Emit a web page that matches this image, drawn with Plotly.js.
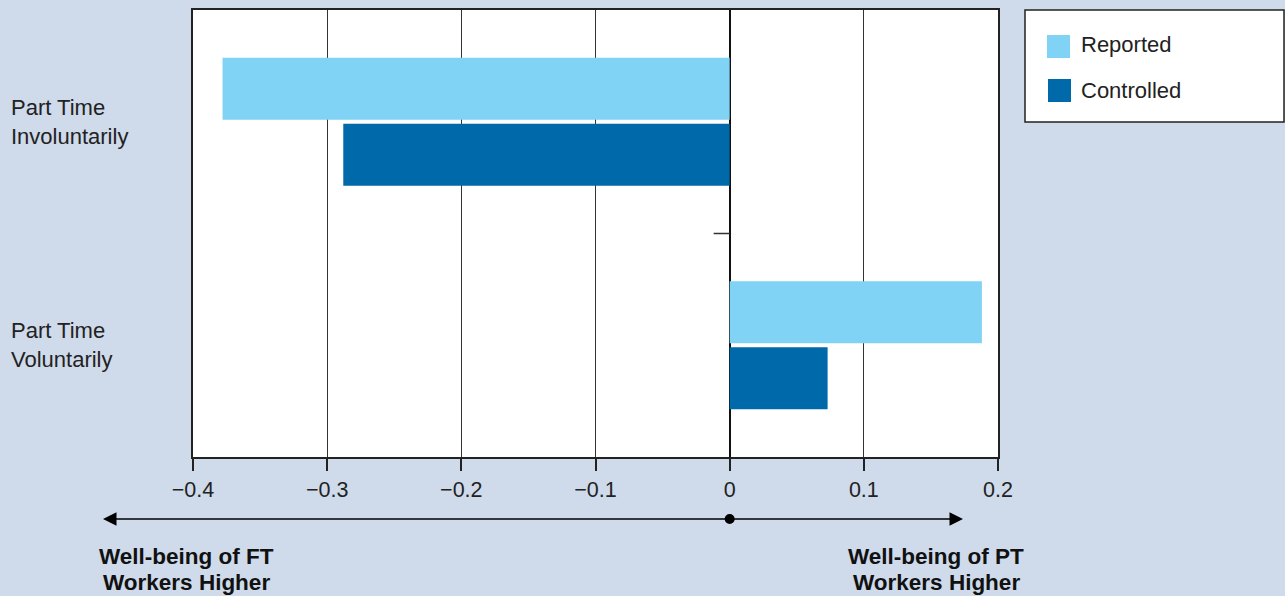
<!DOCTYPE html>
<html>
<head>
<meta charset="utf-8">
<script src="https://cdn.plot.ly/plotly-3.0.1.min.js"></script>
<style>
  html, body { margin: 0; padding: 0; background: #cfdaeb; }
  #chart { width: 1285px; height: 596px; }
</style>
</head>
<body>
<div id="chart"></div>
<script>
const categories = ['Part Time<br>Involuntarily', 'Part Time<br>Voluntarily'];
const seriesNames = ['Reported', 'Controlled'];
const reported = [-0.378, 0.188];
const controlled = [-0.288, 0.073];
const xTicks = [-0.4, -0.3, -0.2, -0.1, 0, 0.1, 0.2];
const xTickText = ['\u22120.4', '\u22120.3', '\u22120.2', '\u22120.1', '0', '0.1', '0.2'];
const directionLabels = [['Well-being of FT', 'Workers Higher'], ['Well-being of PT', 'Workers Higher']];

const COLORS = { reported: '#80d3f5', controlled: '#0069aa' };
const FONT = 'Liberation Sans, Arial, sans-serif';

// plot area in page pixels
const W = 1285, H = 596;
const L = 193, R = 998, T = 10, B = 457;
const px = (x) => (x - L) / (R - L);
const py = (y) => (B - y) / (B - T);

const traces = [
  { type: 'bar', orientation: 'h', name: seriesNames[0], y: categories, x: reported,
    marker: { color: COLORS.reported }, hoverinfo: 'x+name' },
  { type: 'bar', orientation: 'h', name: seriesNames[1], y: categories, x: controlled,
    marker: { color: COLORS.controlled }, hoverinfo: 'x+name' },
];

const shapes = [
  // small tick on the zero line between the two groups
  { type: 'line', xref: 'x', xsizemode: 'pixel', xanchor: 0, x0: -16, x1: 0,
    yref: 'y', y0: 0.5, y1: 0.5, line: { color: '#333', width: 1.5 } },
  // dot on the direction arrow
  { type: 'circle', xref: 'x', xsizemode: 'pixel', xanchor: 0, x0: -5, x1: 5,
    yref: 'paper', ysizemode: 'pixel', yanchor: py(519), y0: -5, y1: 5,
    fillcolor: '#000', line: { color: '#000', width: 0 } },
  // legend box
  { type: 'rect', xref: 'paper', yref: 'paper', x0: px(1025), x1: px(1284), y0: py(122), y1: py(10),
    fillcolor: '#fff', line: { color: '#222', width: 1.5 } },
  { type: 'rect', xref: 'paper', yref: 'paper', x0: px(1047), x1: px(1070), y0: py(58), y1: py(35),
    fillcolor: COLORS.reported, line: { width: 0 } },
  { type: 'rect', xref: 'paper', yref: 'paper', x0: px(1048), x1: px(1071), y0: py(102), y1: py(79),
    fillcolor: COLORS.controlled, line: { width: 0 } },
];

const annotations = [];
categories.forEach((c) => {
  annotations.push({ xref: 'paper', yref: 'y', x: px(9), y: c, xanchor: 'left', yanchor: 'middle',
    align: 'left', text: c, showarrow: false, font: { family: FONT, size: 22, color: '#222' } });
});
seriesNames.forEach((n, i) => {
  annotations.push({ xref: 'paper', yref: 'paper', x: px(1079), y: py(i === 0 ? 45 : 90),
    xanchor: 'left', yanchor: 'middle', text: n, showarrow: false,
    font: { family: FONT, size: 22, color: '#222' } });
});
// direction arrows
annotations.push({ xref: 'paper', yref: 'paper', axref: 'paper', ayref: 'paper',
  x: px(103), y: py(519), ax: px(731), ay: py(519), text: '', showarrow: true,
  arrowhead: 2, arrowsize: 1.8, arrowwidth: 1.5, arrowcolor: '#000' });
annotations.push({ xref: 'paper', yref: 'paper', axref: 'paper', ayref: 'paper',
  x: px(963), y: py(519), ax: px(731), ay: py(519), text: '', showarrow: true,
  arrowhead: 2, arrowsize: 1.8, arrowwidth: 1.5, arrowcolor: '#000' });
[186, 936].forEach((cx, i) => {
  directionLabels[i].forEach((line, j) => {
    annotations.push({ xref: 'paper', yref: 'paper', x: px(cx), y: py(j === 0 ? 556 : 582),
      xanchor: 'center', yanchor: 'middle', text: '<b>' + line + '</b>', showarrow: false,
      font: { family: FONT, size: 22.5, color: '#111' } });
  });
});

const layout = {
  width: W, height: H,
  margin: { l: L, r: W - R, t: T, b: H - B },
  paper_bgcolor: '#cfdaeb',
  plot_bgcolor: '#ffffff',
  barmode: 'group',
  bargap: 0.41,
  bargroupgap: 0.06,
  showlegend: false,
  xaxis: {
    range: [-0.4, 0.2],
    tickvals: xTicks, ticktext: xTickText,
    ticks: 'outside', ticklen: 12, tickwidth: 1.5, tickcolor: '#222',
    tickfont: { family: FONT, size: 21.5, color: '#222' },
    showgrid: true, gridcolor: '#333', gridwidth: 1.2,
    zeroline: true, zerolinecolor: '#111', zerolinewidth: 1.5,
    showline: true, linecolor: '#222', linewidth: 2, mirror: true,
    fixedrange: true,
  },
  yaxis: {
    type: 'category', categoryorder: 'array', categoryarray: categories,
    range: [1.5, -0.5],
    showticklabels: false, ticks: '', showgrid: false, zeroline: false,
    showline: true, linecolor: '#222', linewidth: 2, mirror: true,
    fixedrange: true,
  },
  shapes: shapes,
  annotations: annotations,
};

Plotly.newPlot('chart', traces, layout, { displayModeBar: false });
</script>
</body>
</html>
